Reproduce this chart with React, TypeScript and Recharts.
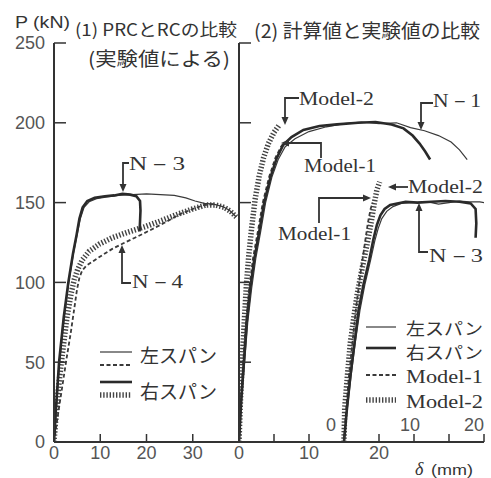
import React from 'react'
import { LineChart, Line, XAxis, YAxis } from 'recharts'

const W = 491
const H = 478
const INK = '#333'
const NUM = '#555'
const SANS = '"Liberation Sans", Arial, sans-serif'
const JP = '"Noto Sans CJK JP", sans-serif'
const SERIF = '"Liberation Serif", "DejaVu Serif", serif'

const yTicks = [0, 50, 100, 150, 200, 250]
const xTicksL = [0, 10, 20, 30]
const xTicksR = [0, 5, 10, 15, 20, 25, 30, 35]
const xLabelsR = [0, 10, 20]
// N-3 curves of panel (2) are drawn from their own origin at δ = 15 mm
const N3_SHIFT = 15

// (1) PRC vs RC, measured — N-3 (PRC)
const n3RightD = [0, 0.4, 1.1, 2.1, 3.1, 4.1, 4.9, 5.5, 6.2, 7.2, 8.8, 11, 13, 14.8, 16.5, 17.8, 18.6, 18.7, 18.6, 18.5]
const n3RightP = [0, 20, 50, 78, 100, 118, 130, 140, 147, 151, 153, 154, 154.5, 155.5, 155, 154, 151, 145, 138, 132]
const n3LeftD = [0, 0.5, 1.2, 2.2, 3.2, 4.2, 5, 5.7, 6.5, 7.6, 9.2, 11.5, 14, 17, 20, 23, 26, 28.5, 30.5, 32.5, 34.5, 36.5, 38, 39.4]
const n3LeftP = [0, 20, 50, 78, 100, 118, 130, 140, 147, 150.5, 152.5, 153.5, 154.5, 155, 155.5, 155, 154.5, 153, 151, 149.5, 149, 147.5, 145, 141]
// (1) — N-4 (RC)
const n4RightD = [0, 0.4, 1.0, 1.8, 2.8, 3.7, 4.4, 5.1, 6.1, 7.6, 9.8, 12.6, 16, 19.8, 23.5, 27, 30, 32.8, 35, 36.8, 38.2, 39.4]
const n4RightP = [0, 15, 35, 55, 78, 93, 102, 108, 114, 119.5, 124, 128, 131.5, 135, 139, 143, 146, 148.5, 148.5, 147, 144.5, 141]
const n4LeftD = [0, 0.9, 1.8, 2.7, 3.6, 4.4, 5.0, 5.5, 6.1, 7.0, 8.3, 10.4, 12.6, 15, 17.5, 21, 24, 27, 30, 32.5, 34.5]
const n4LeftP = [0, 18, 35, 52, 68, 84, 96, 103, 107.5, 110.5, 113, 117, 121, 124.5, 128, 133, 137.5, 142.5, 146, 148.5, 149]

// (2) calculated vs measured — N-1
const n1RightD = [0, 0.3, 0.7, 1.1, 1.6, 2.2, 2.9, 3.6, 4.5, 5.4, 6.3, 7.5, 9.2, 11.5, 14, 17, 19.5, 21.8, 23.5, 24.8, 25.8, 26.6, 27.3]
const n1RightP = [0, 25, 50, 75, 96, 115, 132, 150, 166, 178, 186, 191, 195.5, 198, 199, 200, 200.5, 199, 196.5, 192, 187, 182, 177]
const n1LeftD = [0, 0.35, 0.8, 1.25, 1.8, 2.4, 3.1, 3.8, 4.7, 5.6, 6.6, 8, 10, 12.5, 15, 17.5, 20, 22.5, 24.5, 26.5, 28.5, 30.3, 31.5, 32.6]
const n1LeftP = [0, 25, 50, 75, 96, 115, 132, 150, 166, 177, 185, 190, 194.5, 197.5, 199.5, 200.5, 199.5, 200, 197, 195, 192, 188, 183, 177]
const n1Model1D = [0, 0.25, 0.6, 1.0, 1.45, 2.0, 2.7, 3.4, 4.3, 5.2, 6.0, 6.5]
const n1Model1P = [0, 25, 50, 75, 96, 115, 132, 150, 166, 178, 185, 188]
const n1Model2D = [0, 0.2, 0.45, 0.75, 1.05, 1.4, 1.8, 2.3, 2.9, 3.5, 4.2, 5.0, 5.8]
const n1Model2P = [0, 25, 50, 75, 98, 117, 134, 152, 167, 178, 187, 194, 199]

// (2) — N-3, δ from its own origin
const n3bRightD = [0, 0.4, 0.9, 1.5, 2.1, 2.8, 3.6, 4.2, 4.7, 5.2, 5.8, 6.6, 7.6, 8.8, 10.5, 12.5, 14.5, 16.5, 18.1, 18.8, 18.9, 18.8]
const n3bRightP = [0, 20, 41, 62, 83, 99, 114, 127, 136, 142, 146, 148.5, 149.5, 150.5, 150, 150.5, 151, 150.5, 149.5, 146, 137, 128]
const n3bLeftD = [0, 0.45, 1.0, 1.6, 2.3, 3.0, 3.8, 4.4, 4.9, 5.4, 6.1, 7.0, 8.2, 10, 12, 13.5, 15, 16.5, 18, 19.4, 20]
const n3bLeftP = [0, 20, 41, 62, 83, 99, 114, 126, 134, 140, 144.5, 147.5, 149.5, 150, 150.5, 149, 150, 151, 150.5, 150.5, 150]
const n3bModel1D = [0, 0.3, 0.7, 1.2, 1.7, 2.3, 2.9, 3.4, 3.8, 4.1]
const n3bModel1P = [0, 20, 41, 62, 83, 104, 122, 137, 146, 150]
const n3bModel2D = [0, 0.1, 0.5, 0.9, 1.4, 1.9, 2.6, 3.3, 3.9, 4.3, 4.7, 5.1]
const n3bModel2P = [0, 21, 42, 62, 78, 93, 109, 124, 138, 149, 158, 163]

type Pt = { d: number; p: number }
const pts = (d: number[], p: number[], shift = 0): Pt[] => d.map((v, i) => ({ d: v + shift, p: p[i] }))

const STYLE = {
  thin: { stroke: '#3a3a3a', strokeWidth: 1.2 },
  thick: { stroke: '#2a2a2a', strokeWidth: 2.6 },
  dashed: { stroke: '#3a3a3a', strokeWidth: 1.8, strokeDasharray: '4 2.5' },
  // comb-like hatch: short strokes across the path
  hatch: { stroke: '#444', strokeWidth: 5.5, strokeDasharray: '1.4 1.8' },
}

const curve = (key: string, data: Pt[], style: Record<string, any>) => (
  <Line key={key} data={data} dataKey="p" type="linear" dot={false} activeDot={false}
    isAnimationActive={false} {...style} />
)

const tickFont = { fontSize: 18, fill: NUM, fontFamily: SANS }
const axisLine = { stroke: INK, strokeWidth: 2 }
const tickLine = { stroke: INK, strokeWidth: 1.5 }

function Arrow({ x, y, dir }: { x: number; y: number; dir: 'up' | 'down' | 'left' | 'right' }) {
  const s = 3.5, l = 8
  const p =
    dir === 'down' ? `${x},${y} ${x - s},${y - l} ${x + s},${y - l}` :
    dir === 'up' ? `${x},${y} ${x - s},${y + l} ${x + s},${y + l}` :
    dir === 'left' ? `${x},${y} ${x + l},${y - s} ${x + l},${y + s}` :
    `${x},${y} ${x - l},${y - s} ${x - l},${y + s}`
  return <polygon points={p} fill={INK} />
}

function Tag({ x, y, w, text, font = SERIF, size = 19 }: { x: number; y: number; w: number; text: string; font?: string; size?: number }) {
  return (
    <text x={x} y={y} fontFamily={font} fontSize={size} fill={INK} textLength={w} lengthAdjust="spacingAndGlyphs">{text}</text>
  )
}

function Overlay() {
  const bracket = { fill: 'none', stroke: INK, strokeWidth: 1.8 }
  return (
    <svg width={W} height={H} style={{ position: 'absolute', left: 0, top: 0 }}>
      {/* titles */}
      <Tag x={15} y={28} w={55} text="P (kN)" font={SANS} size={16} />
      <Tag x={75} y={36} w={162} text="(1) PRCとRCの比較" font={JP} size={17} />
      <Tag x={88} y={66} w={142} text="(実験値による)" font={JP} size={19} />
      <Tag x={254} y={38} w={226} text="(2) 計算値と実験値の比較" font={JP} size={19} />

      {/* panel (1) labels */}
      <polyline points="129,163 123,163 123,184" {...bracket} />
      <Arrow x={123} y={192} dir="down" />
      <Tag x={129} y={170} w={56} text="N－3" />
      <polyline points="131,283 122,283 122,253" {...bracket} />
      <Arrow x={122} y={245} dir="up" />
      <Tag x={132} y={288} w={51} text="N－4" />

      {/* panel (2) labels */}
      <polyline points="299,98 285,98 285,117" {...bracket} />
      <Arrow x={285} y={125} dir="down" />
      <Tag x={299} y={105} w={75} text="Model-2" />
      <polyline points="321,158 321,143 289,143" {...bracket} />
      <Arrow x={281} y={143} dir="left" />
      <Tag x={304} y={172} w={72} text="Model-1" />
      <polyline points="433,103 421,103 421,122" {...bracket} />
      <Arrow x={421} y={130} dir="down" />
      <Tag x={433} y={107} w={48} text="N－1" />
      <line x1={408} y1={187} x2={395} y2={187} {...bracket} />
      <Arrow x={388} y={187} dir="left" />
      <Tag x={408} y={193} w={75} text="Model-2" />
      <polyline points="319,223 319,198 363,198" {...bracket} />
      <Arrow x={371} y={198} dir="right" />
      <Tag x={278} y={240} w={73} text="Model-1" />
      <polyline points="428,252 419,252 419,211" {...bracket} />
      <Arrow x={419} y={203} dir="up" />
      <Tag x={429} y={262} w={54} text="N－3" />

      {/* legend (1) */}
      <line x1={100} y1={352} x2={132} y2={352} {...STYLE.thin} />
      <line x1={100} y1={365} x2={132} y2={365} {...STYLE.dashed} />
      <Tag x={140} y={363} w={77} text="左スパン" font={JP} />
      <line x1={100} y1={382} x2={132} y2={382} {...STYLE.thick} />
      <line x1={100} y1={395} x2={132} y2={395} {...STYLE.hatch} />
      <Tag x={140} y={399} w={77} text="右スパン" font={JP} />

      {/* legend (2) */}
      <line x1={366} y1={327} x2={396} y2={327} {...STYLE.thin} />
      <Tag x={406} y={335} w={77} text="左スパン" font={JP} size={16.5} />
      <line x1={366} y1={348} x2={396} y2={348} {...STYLE.thick} />
      <Tag x={406} y={359} w={77} text="右スパン" font={JP} size={16.5} />
      <line x1={366} y1={375} x2={396} y2={375} {...STYLE.dashed} />
      <Tag x={406} y={383} w={77} text="Model-1" />
      <line x1={366} y1={400} x2={396} y2={400} {...STYLE.hatch} />
      <Tag x={406} y={408} w={77} text="Model-2" />

      {/* N-3 local δ scale */}
      <text x={331} y={431} textAnchor="middle" fontFamily={SANS} fontSize={18} fill={NUM}>0</text>
      <text x={410} y={431} textAnchor="middle" fontFamily={SANS} fontSize={18} fill={NUM}>10</text>
      <text x={474} y={431} textAnchor="middle" fontFamily={SANS} fontSize={18} fill={NUM}>20</text>

      <text x={415} y={475} fontFamily={SERIF} fontStyle="italic" fontSize={18} fill={INK}>δ</text>
      <Tag x={431} y={475} w={42} text="(mm)" font={SANS} size={15} />
    </svg>
  )
}

export default function App() {
  const chart = { position: 'absolute' as const, left: 0, top: 0 }
  return (
    <div style={{ position: 'absolute', left: 0, top: 0, width: W, height: H, background: '#fff' }}>
      {/* (1) PRC vs RC */}
      <div style={chart}>
        <LineChart width={W} height={H} margin={{ top: 43, right: 252, bottom: 6, left: 14 }}>
          <XAxis dataKey="d" type="number" domain={[0, 40]} ticks={xTicksL} allowDataOverflow
            tickSize={-8} tickMargin={12} axisLine={axisLine} tickLine={tickLine} tick={tickFont} />
          <YAxis type="number" domain={[0, 250]} ticks={yTicks} width={40} allowDataOverflow
            tickSize={-12} tickMargin={21} axisLine={axisLine} tickLine={tickLine} tick={tickFont} />
          {curve('n4r', pts(n4RightD, n4RightP), STYLE.hatch)}
          {curve('n4l', pts(n4LeftD, n4LeftP), STYLE.dashed)}
          {curve('n3l', pts(n3LeftD, n3LeftP), STYLE.thin)}
          {curve('n3r', pts(n3RightD, n3RightP), STYLE.thick)}
        </LineChart>
      </div>
      {/* (2) calculated vs measured */}
      <div style={chart}>
        <LineChart width={W} height={H} margin={{ top: 43, right: 7, bottom: 6, left: 199 }}>
          <XAxis dataKey="d" type="number" domain={[0, 35]} ticks={xTicksR} allowDataOverflow
            tickSize={-8} tickMargin={12} axisLine={axisLine} tickLine={tickLine} tick={tickFont}
            tickFormatter={(v: number) => (xLabelsR.includes(v) ? String(v) : '')} />
          <YAxis type="number" domain={[0, 250]} ticks={yTicks} width={40} allowDataOverflow
            tickSize={-12} axisLine={axisLine} tickLine={tickLine} tick={tickFont}
            tickFormatter={() => ''} />
          {curve('n1m2', pts(n1Model2D, n1Model2P), STYLE.hatch)}
          {curve('n1m1', pts(n1Model1D, n1Model1P), STYLE.dashed)}
          {curve('n1l', pts(n1LeftD, n1LeftP), STYLE.thin)}
          {curve('n1r', pts(n1RightD, n1RightP), STYLE.thick)}
          {curve('n3m2', pts(n3bModel2D, n3bModel2P, N3_SHIFT), STYLE.hatch)}
          {curve('n3m1', pts(n3bModel1D, n3bModel1P, N3_SHIFT), STYLE.dashed)}
          {curve('n3bl', pts(n3bLeftD, n3bLeftP, N3_SHIFT), STYLE.thin)}
          {curve('n3br', pts(n3bRightD, n3bRightP, N3_SHIFT), STYLE.thick)}
        </LineChart>
      </div>
      <Overlay />
    </div>
  )
}
